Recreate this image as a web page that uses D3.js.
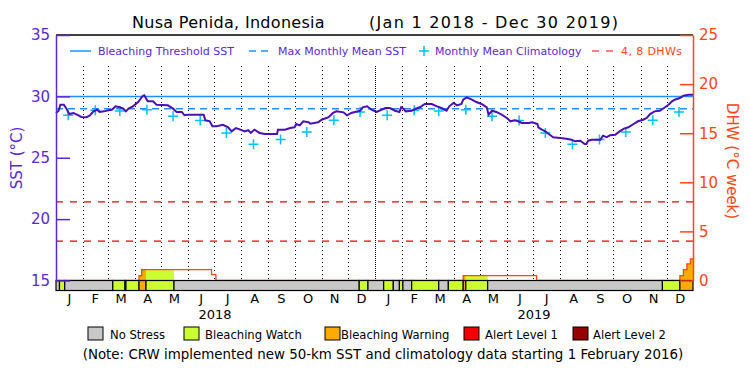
<!DOCTYPE html>
<html>
<head>
<meta charset="utf-8">
<script src="https://cdn.jsdelivr.net/npm/d3@7"></script>
<style>
body { margin: 0; background: #fff; }
svg { display: block; font-family: "DejaVu Sans", sans-serif; }
</style>
</head>
<body>
<div id="chart"></div>
<script>
// daily SST (day = days since 1 Jan 2018)
var sstDay = [0,3,5,9,12,15,20,24,29,35,39,43,47,50,55,60,64,68,73,77,80,83,88,94,99,101,105,111,115,128,
  134,138,144,147,151,169,171,176,179,184,191,197,201,206,211,216,220,223,227,233,239,253,254,262,268,273,275,279,283,289,
  291,300,304,312,317,321,329,333,338,342,348,351,356,361,367,377,382,388,393,395,398,400,407,411,417,422,430,436,441,447,
  450,455,459,464,466,470,476,481,487,493,495,499,504,510,516,520,525,529,533,541,545,551,552,556,560,565,569,577,584,590,
  594,600,605,607,609,613,623,626,630,634,640,645,650,655,661,666,672,676,680,685,691,697,701,705,708,714,718,724,729];
var sstValue = [28.65,28.83,29.32,29.32,29.00,28.56,28.65,28.51,28.32,28.30,28.46,28.78,28.91,28.73,28.78,28.87,28.91,29.19,29.11,29.00,
  28.78,29.00,29.19,29.54,30.01,30.09,29.60,29.60,29.32,29.27,29.00,28.73,28.73,28.46,28.51,28.51,28.05,27.97,27.56,27.56,
  27.69,27.48,27.15,27.42,27.29,27.15,27.24,27.02,27.29,27.02,26.93,26.93,27.29,27.29,27.42,27.48,27.75,27.64,27.97,27.89,
  27.77,27.89,28.10,28.30,28.65,28.78,28.70,28.46,28.65,28.73,28.83,29.11,29.19,28.91,28.73,29.05,29.05,28.83,28.73,29.11,
  28.97,28.78,28.83,28.97,29.13,29.38,29.38,29.19,29.05,28.83,29.19,29.46,29.27,29.38,29.73,29.92,29.73,29.54,29.38,29.11,
  28.51,28.83,28.73,28.51,28.24,27.97,28.05,27.97,27.83,27.83,27.89,27.75,27.48,27.29,27.15,26.88,26.67,26.61,26.55,26.47,
  26.34,26.39,26.12,26.12,26.39,26.47,26.47,26.80,26.67,26.83,26.88,27.15,27.37,27.48,27.75,27.97,28.10,28.24,28.56,28.78,
  28.83,29.11,29.32,29.60,29.73,29.87,30.06,30.14,30.14];

// monthly mean climatology (Jan..Dec), repeated each year
var climValue = [28.46,28.87,28.81,28.92,28.38,28.03,27.01,26.09,26.48,27.10,28.05,28.73];
var thresholdSST = 30.0;
var mmmSST = 29.0;
var dhwLevels = [4, 8];

// degree heating weeks, step values
var dhwDay   = [0, 95, 98, 178, 183, 466, 550, 714, 718, 722, 726, 729];
var dhwValue = [0, 0.5, 1.1, 0.6, 0, 0.5, 0, 0.5, 1.1, 1.7, 2.2, 2.2];

// stress level periods (0 no stress, 1 watch, 2 warning)
var stressStart = [0,4,10,65,79,80,95,103,135,347,357,375,386,393,397,407,438,449,466,469,494,694,714];
var stressLevel = [0,1,0,1,0,1,2,1,0,1,0,1,0,1,0,1,0,1,2,1,0,1,2];

var stressNames  = ["No Stress", "Bleaching Watch", "Bleaching Warning", "Alert Level 1", "Alert Level 2"];
var stressColors = ["#c8c8c8", "#ccff33", "#ffaa00", "#f00000", "#960000"];
var monthLetters = ["J","F","M","A","M","J","J","A","S","O","N","D"];
var years = [2018, 2019];

var width = 750, height = 375;
var plotL = 56, plotR = 693, plotT = 35, plotB = 280.5, barH = 10;
var purple = "#5a28d2", sstColor = "#4b0fb4", orange = "#ff4614", blue = "#1e90ff", cyan = "#00c0ff";

var t0 = new Date(Date.UTC(2018, 0, 1));
var t1 = new Date(Date.UTC(2019, 11, 31));
function day(d) { return d3.utcDay.offset(t0, d); }

var x = d3.scaleUtc().domain([t0, t1]).range([plotL, plotR]);
var y = d3.scaleLinear().domain([15, 35]).range([plotB, plotT]);
var y2 = d3.scaleLinear().domain([0, 25]).range([plotB, plotT]);

var svg = d3.select("#chart").append("svg")
  .attr("width", width).attr("height", height);

// title
svg.append("text").attr("x", 132).attr("y", 28).style("font-size", "16px")
  .style("letter-spacing", "0.3px")
  .text("Nusa Penida, Indonesia");
svg.append("text").attr("x", 369).attr("y", 28).style("font-size", "16px")
  .style("letter-spacing", "1.3px")
  .text("(Jan 1 2018 - Dec 30 2019)");

// dotted month lines
var months = d3.utcMonth.range(d3.utcMonth.offset(t0, 1), t1);
svg.append("g").selectAll("line")
  .data(months).enter().append("line")
    .attr("x1", function(d) { return Math.round(x(d)) + 0.5; })
    .attr("x2", function(d) { return Math.round(x(d)) + 0.5; })
    .attr("y1", 66).attr("y2", plotB)
    .attr("stroke", "#000")
    .attr("stroke-dasharray", function(d) { return d.getUTCMonth() == 0 ? "1,1" : "1,3"; });

// threshold and MMM
svg.append("line").attr("x1", plotL).attr("x2", plotR)
  .attr("y1", y(thresholdSST)).attr("y2", y(thresholdSST))
  .attr("stroke", blue).attr("stroke-width", 1.5);
svg.append("line").attr("x1", plotL).attr("x2", plotR)
  .attr("y1", y(mmmSST)).attr("y2", y(mmmSST))
  .attr("stroke", blue).attr("stroke-width", 1.5).attr("stroke-dasharray", "7,5");

// 4 and 8 DHW lines
svg.append("g").selectAll("line")
  .data(dhwLevels).enter().append("line")
    .attr("x1", plotL).attr("x2", plotR)
    .attr("y1", function(d) { return y2(d); }).attr("y2", function(d) { return y2(d); })
    .attr("stroke", "#f00000").attr("stroke-width", 1.2).attr("stroke-dasharray", "7,7");

// DHW area, coloured by the stress level of each period
var dhwPts = dhwDay.map(function(d, i) { return [day(d), dhwValue[i]]; });
var dhwArea = d3.area().curve(d3.curveStepAfter)
  .x(function(d) { return x(d[0]); }).y0(plotB).y1(function(d) { return y2(d[1]); });
var dhwLine = d3.line().curve(d3.curveStepAfter)
  .x(function(d) { return x(d[0]); }).y(function(d) { return y2(d[1]); });

var segs = stressStart.map(function(s, i) {
  return { start: s, end: i + 1 < stressStart.length ? stressStart[i + 1] : 729, level: stressLevel[i] };
});
var defs = svg.append("defs");
segs.forEach(function(s, i) {
  if (s.level < 1) return;
  defs.append("clipPath").attr("id", "seg" + i).append("rect")
    .attr("x", x(day(s.start))).attr("width", x(day(s.end)) - x(day(s.start)))
    .attr("y", plotT).attr("height", plotB - plotT);
  svg.append("path").datum(dhwPts)
    .attr("d", dhwArea).attr("fill", stressColors[s.level])
    .attr("clip-path", "url(#seg" + i + ")");
});
svg.append("path").datum(dhwPts)
  .attr("d", dhwLine).attr("fill", "none").attr("stroke", orange).attr("stroke-width", 1.3);

// climatology crosses
var climPts = [];
years.forEach(function(yr) {
  climValue.forEach(function(v, m) { climPts.push([new Date(Date.UTC(yr, m, 15)), v]); });
});
svg.append("g").selectAll("path")
  .data(climPts).enter().append("path")
    .attr("d", function(d) {
      var cx = x(d[0]), cy = y(d[1]);
      return "M" + (cx - 5) + "," + cy + "H" + (cx + 5) + "M" + cx + "," + (cy - 5) + "V" + (cy + 5);
    })
    .attr("stroke", cyan).attr("stroke-width", 1.5);

// SST line
var sstPts = sstDay.map(function(d, i) { return [day(d), sstValue[i]]; });
svg.append("path").datum(sstPts)
  .attr("d", d3.line().x(function(d) { return x(d[0]); }).y(function(d) { return y(d[1]); }))
  .attr("fill", "none").attr("stroke", sstColor).attr("stroke-width", 2);

// stress bar
svg.append("g").selectAll("rect")
  .data(segs).enter().append("rect")
    .attr("x", function(d) { return x(day(d.start)); })
    .attr("width", function(d) { return x(day(d.end)) - x(day(d.start)); })
    .attr("y", plotB).attr("height", barH)
    .attr("fill", function(d) { return stressColors[d.level]; })
    .attr("stroke", "#000").attr("stroke-width", 1.2);

// frame top
svg.append("line").attr("x1", plotL).attr("x2", plotR).attr("y1", plotT).attr("y2", plotT)
  .attr("stroke", "#000").attr("stroke-width", 1.5);

// left axis
var gl = svg.append("g").attr("transform", "translate(" + plotL + ",0)");
gl.call(d3.axisLeft(y).tickValues(d3.range(15, 36)).tickSizeInner(-7).tickSizeOuter(0).tickFormat(""));
gl.call(d3.axisLeft(y).tickValues([15, 20, 25, 30, 35]).tickSizeInner(-14).tickSizeOuter(0).tickPadding(6));
gl.selectAll("line, path").attr("stroke", purple).attr("stroke-width", 1.5);
gl.selectAll("text").attr("fill", purple).style("font-size", "15px").style("font-family", "DejaVu Sans");
svg.append("text").attr("transform", "translate(22,158) rotate(-90)")
  .attr("text-anchor", "middle").attr("fill", purple).style("font-size", "15px")
  .text("SST (\u00b0C)");

// right axis
var gr = svg.append("g").attr("transform", "translate(" + plotR + ",0)");
gr.call(d3.axisRight(y2).tickValues(d3.range(0, 26)).tickSizeInner(-6).tickSizeOuter(0).tickFormat(""));
gr.call(d3.axisRight(y2).tickValues([0, 5, 10, 15, 20, 25]).tickSizeInner(-13).tickSizeOuter(0).tickPadding(6));
gr.selectAll("line, path").attr("stroke", orange).attr("stroke-width", 1.5);
gr.selectAll("text").attr("fill", orange).style("font-size", "15px").style("font-family", "DejaVu Sans");
svg.append("text").attr("transform", "translate(727,161) rotate(90)")
  .attr("text-anchor", "middle").attr("fill", orange).style("font-size", "15px")
  .text("DHW (\u00b0C week)");

// month and year labels
var monthMids = d3.utcMonth.range(t0, t1).map(function(d) {
  return new Date((+d + +d3.utcMonth.offset(d, 1)) / 2);
});
svg.append("g").selectAll("text")
  .data(monthMids).enter().append("text")
    .attr("x", function(d) { return x(d); }).attr("y", 303)
    .attr("text-anchor", "middle").style("font-size", "13px")
    .text(function(d) { return monthLetters[d.getUTCMonth()]; });
svg.append("g").selectAll("text")
  .data(years).enter().append("text")
    .attr("x", function(d) { return x(new Date(Date.UTC(d, 6, 2))); }).attr("y", 319)
    .attr("text-anchor", "middle").style("font-size", "13px")
    .text(function(d) { return d; });

// top legend
var lg = svg.append("g").style("font-size", "11px");
lg.append("line").attr("x1", 70).attr("x2", 91).attr("y1", 51).attr("y2", 51).attr("stroke", blue).attr("stroke-width", 1.5);
lg.append("text").attr("x", 98).attr("y", 55).attr("fill", purple).text("Bleaching Threshold SST");
lg.append("line").attr("x1", 249).attr("x2", 272).attr("y1", 51).attr("y2", 51).attr("stroke", blue)
  .attr("stroke-width", 1.5).attr("stroke-dasharray", "7,5");
lg.append("text").attr("x", 278).attr("y", 55).attr("fill", purple).text("Max Monthly Mean SST");
lg.append("path").attr("d", "M419,51H429M424,46V56").attr("stroke", cyan).attr("stroke-width", 1.5);
lg.append("text").attr("x", 435).attr("y", 55).attr("fill", purple).text("Monthly Mean Climatology");
lg.append("line").attr("x1", 592).attr("x2", 615).attr("y1", 51).attr("y2", 51).attr("stroke", "#f00000")
  .attr("stroke-width", 1.2).attr("stroke-dasharray", "7,7");
lg.append("text").attr("x", 621).attr("y", 55).attr("fill", orange).style("letter-spacing", "0.4px").text("4, 8 DHWs");

// stress legend
var boxX = [88, 184, 325, 464, 573];
var textX = [110, 205, 341, 485, 593];
var sl = svg.append("g").style("font-size", "11.6px");
stressNames.forEach(function(n, i) {
  sl.append("rect").attr("x", boxX[i]).attr("y", 327).attr("width", 15).attr("height", 13)
    .attr("fill", stressColors[i]).attr("stroke", "#000");
  sl.append("text").attr("x", textX[i]).attr("y", 339).text(n);
});
svg.append("text").attr("x", 383).attr("y", 359).attr("text-anchor", "middle").style("font-size", "13.4px")
  .text("(Note: CRW implemented new 50-km SST and climatology data starting 1 February 2016)");
</script>
</body>
</html>
